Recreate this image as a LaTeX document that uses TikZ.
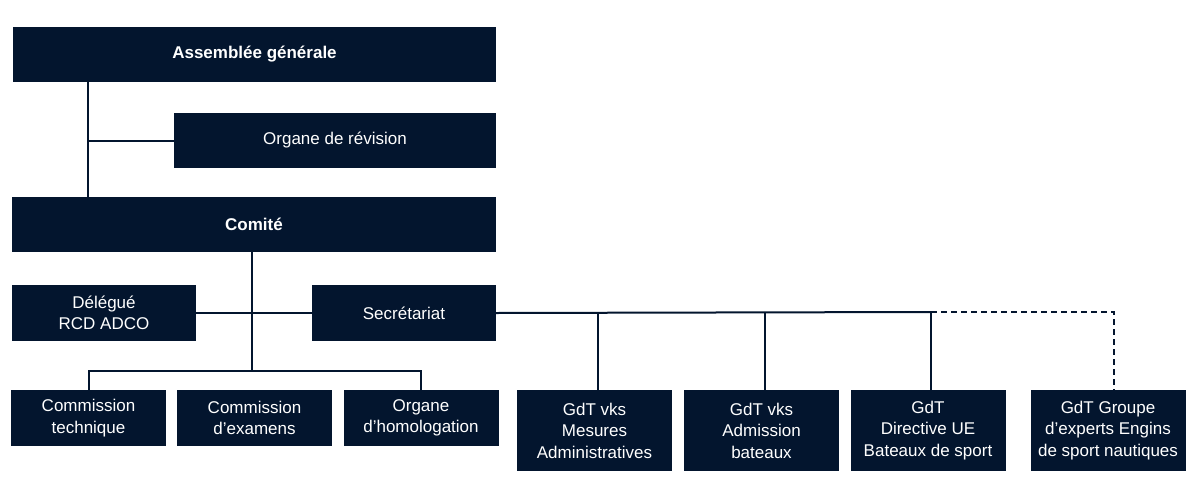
\documentclass[tikz,border=0pt]{standalone}
\usepackage{fontspec}
\setmainfont{Liberation Sans}
\definecolor{navy}{HTML}{03152E}
\tikzset{
  box/.style={fill=navy,text=white,inner sep=0pt,align=center,
    minimum width=155,minimum height=56,
    font=\fontsize{17}{21.5}\selectfont},
  head/.style={box,font=\fontsize{17}{21}\selectfont\bfseries},
  link/.style={draw=navy,line width=2pt},
  maybe/.style={link,dash pattern=on 6pt off 4pt}
}
\begin{document}
\begin{tikzpicture}[x=1pt,y=-1pt]
  \useasboundingbox (0,0) rectangle (1196,498);
  % top of the chart
  \node[head,minimum width=483,minimum height=55] (ag) at (254.5,54.5) {Assemblée générale};
  \node[box,minimum width=322,minimum height=55] (rev) at (335,140.5) {Organe de révision};
  \node[head,minimum width=484,minimum height=55] (com) at (254,224.5) {Comité};
  \node[box,minimum width=184] (del) at (104,313) {Délégué\\RCD ADCO};
  \node[box,minimum width=184] (sec) at (404,313) {Secrétariat};
  % commissions
  \foreach \n/\x/\t in {ct/88.5/{Commission\\technique},
      ce/254.5/{Commission\\d’examens},oh/421/{Organe\\d’homologation}}
    \node[box] (\n) at (\x,418) {\t};
  % groupes de travail
  \foreach \n/\x/\t in {g1/594.5/{GdT vks\\Mesures\\Administratives},
      g2/761.5/{GdT vks\\Admission\\bateaux},
      g3/928/{GdT\\Directive UE\\Bateaux de sport},
      g4/1108/{GdT Groupe\\d’experts Engins\\de sport nautiques}}
    \node[box,minimum height=81] (\n) at (\x,430.5) {\t};
  \coordinate (k1) at (88,0);
  \coordinate (bus) at (252,371);
  \coordinate (s1) at (598,312);
  \coordinate (s2) at (764.5,312);
  \coordinate (s3) at (931,312);
  \coordinate (s4) at (1114,312);
  \draw[link] (ag.south -| k1) -- (com.north -| k1);
  \draw[link] (k1 |- rev.west) -- (rev.west);
  \draw[link] (com.south -| bus) -- (bus);
  \draw[link] (del.east) -- (sec.west);
  \draw[link] (ct.north) |- (bus) -| (oh.north);
  \draw[link] (sec.east) -- (s3);
  \foreach \s/\g in {s1/g1,s2/g2,s3/g3}
    \draw[link] (\s) -- (\s |- \g.north);
  \draw[maybe] (s3) -- (s4) -- (s4 |- g4.north);
\end{tikzpicture}
\end{document}
